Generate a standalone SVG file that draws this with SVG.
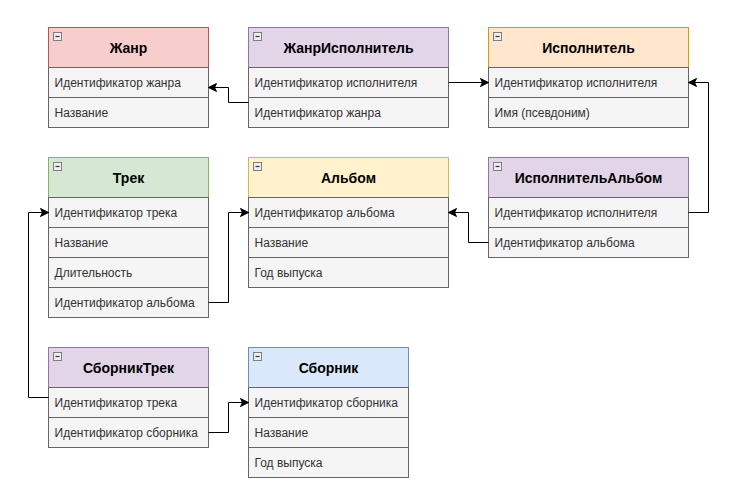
<svg xmlns="http://www.w3.org/2000/svg" width="734" height="497" viewBox="0 0 734 497">
<style>
.hd{stroke-width:1}
.row{fill:#f5f5f5;stroke:#666666;stroke-width:1}
.ht{font-family:"Liberation Sans",Arial,sans-serif;font-size:14px;font-weight:bold;fill:#000;text-anchor:middle}
.rt{font-family:"Liberation Sans",Arial,sans-serif;font-size:12px;fill:#333333}
.ic{fill:#eeeeee;stroke:#7f7f7f;stroke-width:1}
.icm{stroke:#333;stroke-width:1.2}
.edge{fill:none;stroke:#000;stroke-width:1;marker-end:url(#arr)}
</style>
<defs>
<marker id="arr" markerUnits="userSpaceOnUse" markerWidth="10" markerHeight="10" refX="8" refY="4" orient="auto" viewBox="0 0 10 10" overflow="visible">
<path d="M8,4 L0,0 L2,4 L0,8 Z" fill="#000" stroke="#000" stroke-width="1"/>
</marker>
</defs>
<rect x="0" y="0" width="734" height="497" fill="#ffffff"/>
<g transform="translate(0.5,0.5)">
<g id="zhanr">
<rect class="hd" x="48" y="27" width="160" height="40" fill="#f8cecc" stroke="#b85450"/>
<rect class="ic" x="53" y="32" width="8" height="8"/><line class="icm" x1="55" y1="36" x2="59" y2="36"/>
<text class="ht" x="128" y="52.5">Жанр</text>
<rect class="row" x="48" y="67" width="160" height="30"/><text class="rt" x="54" y="86">Идентификатор жанра</text>
<rect class="row" x="48" y="97" width="160" height="30"/><text class="rt" x="54" y="116">Название</text>
</g>
<g id="zhanr-ispolnitel">
<rect class="hd" x="248" y="27" width="200" height="40" fill="#e1d5e7" stroke="#9673a6"/>
<rect class="ic" x="253" y="32" width="8" height="8"/><line class="icm" x1="255" y1="36" x2="259" y2="36"/>
<text class="ht" x="348" y="52.5">ЖанрИсполнитель</text>
<rect class="row" x="248" y="67" width="200" height="30"/><text class="rt" x="254" y="86">Идентификатор исполнителя</text>
<rect class="row" x="248" y="97" width="200" height="30"/><text class="rt" x="254" y="116">Идентификатор жанра</text>
</g>
<g id="ispolnitel">
<rect class="hd" x="488" y="27" width="200" height="40" fill="#ffe6cc" stroke="#d79b00"/>
<rect class="ic" x="493" y="32" width="8" height="8"/><line class="icm" x1="495" y1="36" x2="499" y2="36"/>
<text class="ht" x="588" y="52.5">Исполнитель</text>
<rect class="row" x="488" y="67" width="200" height="30"/><text class="rt" x="494" y="86">Идентификатор исполнителя</text>
<rect class="row" x="488" y="97" width="200" height="30"/><text class="rt" x="494" y="116">Имя (псевдоним)</text>
</g>
<g id="trek">
<rect class="hd" x="48" y="157" width="160" height="40" fill="#d5e8d4" stroke="#82b366"/>
<rect class="ic" x="53" y="162" width="8" height="8"/><line class="icm" x1="55" y1="166" x2="59" y2="166"/>
<text class="ht" x="128" y="182.5">Трек</text>
<rect class="row" x="48" y="197" width="160" height="30"/><text class="rt" x="54" y="216">Идентификатор трека</text>
<rect class="row" x="48" y="227" width="160" height="30"/><text class="rt" x="54" y="246">Название</text>
<rect class="row" x="48" y="257" width="160" height="30"/><text class="rt" x="54" y="276">Длительность</text>
<rect class="row" x="48" y="287" width="160" height="30"/><text class="rt" x="54" y="306">Идентификатор альбома</text>
</g>
<g id="albom">
<rect class="hd" x="248" y="157" width="200" height="40" fill="#fff2cc" stroke="#d6b656"/>
<rect class="ic" x="253" y="162" width="8" height="8"/><line class="icm" x1="255" y1="166" x2="259" y2="166"/>
<text class="ht" x="348" y="182.5">Альбом</text>
<rect class="row" x="248" y="197" width="200" height="30"/><text class="rt" x="254" y="216">Идентификатор альбома</text>
<rect class="row" x="248" y="227" width="200" height="30"/><text class="rt" x="254" y="246">Название</text>
<rect class="row" x="248" y="257" width="200" height="30"/><text class="rt" x="254" y="276">Год выпуска</text>
</g>
<g id="ispolnitel-albom">
<rect class="hd" x="488" y="157" width="200" height="40" fill="#e1d5e7" stroke="#9673a6"/>
<rect class="ic" x="493" y="162" width="8" height="8"/><line class="icm" x1="495" y1="166" x2="499" y2="166"/>
<text class="ht" x="588" y="182.5">ИсполнительАльбом</text>
<rect class="row" x="488" y="197" width="200" height="30"/><text class="rt" x="494" y="216">Идентификатор исполнителя</text>
<rect class="row" x="488" y="227" width="200" height="30"/><text class="rt" x="494" y="246">Идентификатор альбома</text>
</g>
<g id="sbornik-trek">
<rect class="hd" x="48" y="347" width="160" height="40" fill="#e1d5e7" stroke="#9673a6"/>
<rect class="ic" x="53" y="352" width="8" height="8"/><line class="icm" x1="55" y1="356" x2="59" y2="356"/>
<text class="ht" x="128" y="372.5">СборникТрек</text>
<rect class="row" x="48" y="387" width="160" height="30"/><text class="rt" x="54" y="406">Идентификатор трека</text>
<rect class="row" x="48" y="417" width="160" height="30"/><text class="rt" x="54" y="436">Идентификатор сборника</text>
</g>
<g id="sbornik">
<rect class="hd" x="248" y="347" width="160" height="40" fill="#dae8fc" stroke="#6c8ebf"/>
<rect class="ic" x="253" y="352" width="8" height="8"/><line class="icm" x1="255" y1="356" x2="259" y2="356"/>
<text class="ht" x="328" y="372.5">Сборник</text>
<rect class="row" x="248" y="387" width="160" height="30"/><text class="rt" x="254" y="406">Идентификатор сборника</text>
<rect class="row" x="248" y="417" width="160" height="30"/><text class="rt" x="254" y="436">Название</text>
<rect class="row" x="248" y="447" width="160" height="30"/><text class="rt" x="254" y="466">Год выпуска</text>
</g>
<g id="connectors">
<path class="edge" d="M248,102 H228 V87 H208"/>
<path class="edge" d="M448,82 H488"/>
<path class="edge" d="M688,212 H708 V82 H688"/>
<path class="edge" d="M488,242 H468 V212 H448"/>
<path class="edge" d="M208,302 H228 V212 H248"/>
<path class="edge" d="M48,397 H28 V212 H48"/>
<path class="edge" d="M208,432 H228 V402 H248"/>
</g>
</g>
</svg>
